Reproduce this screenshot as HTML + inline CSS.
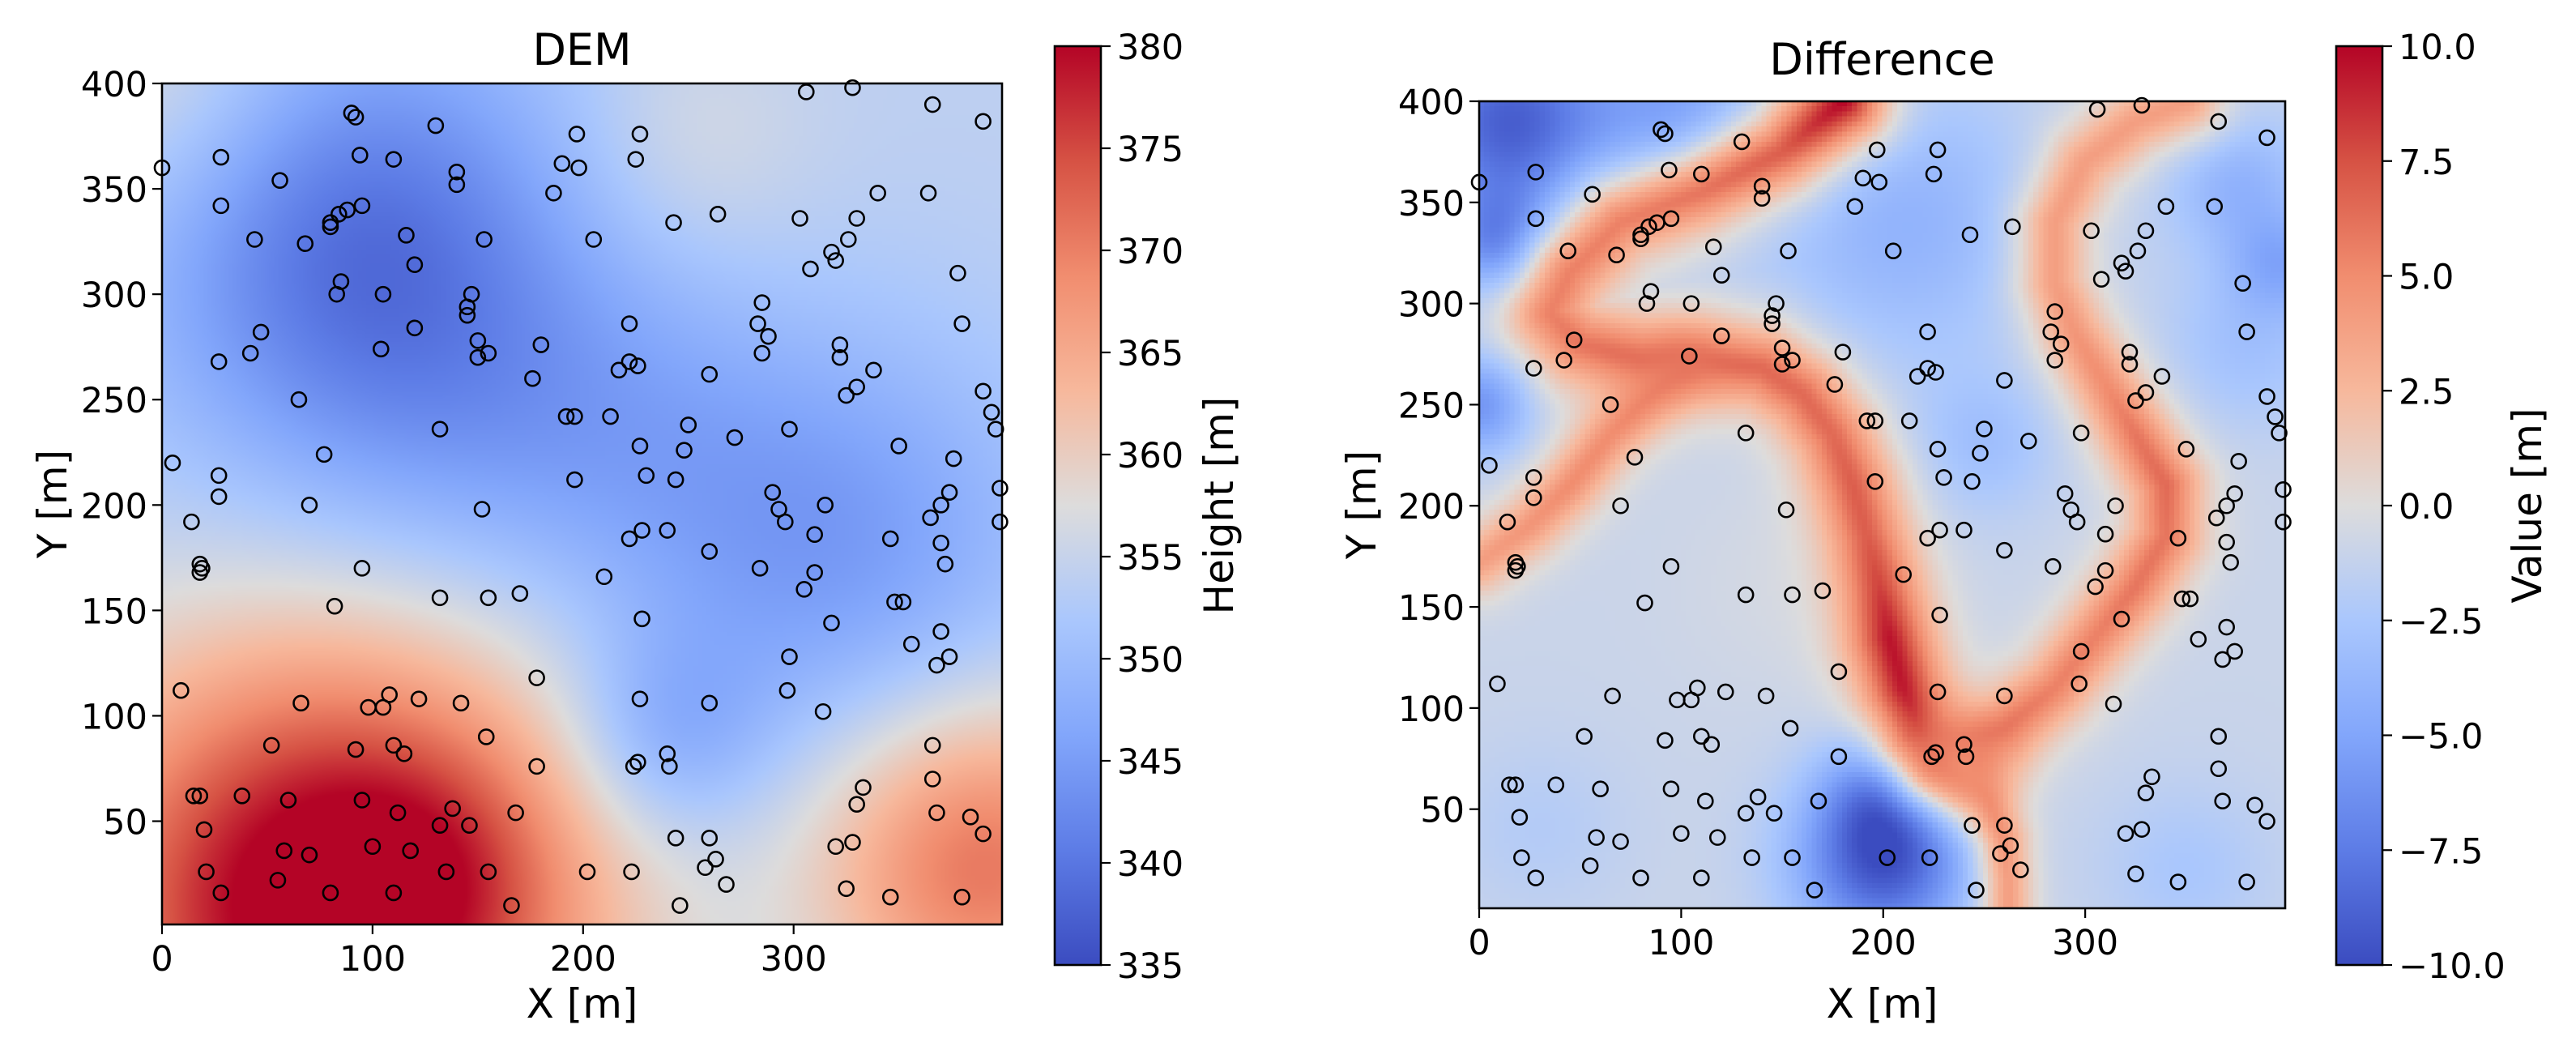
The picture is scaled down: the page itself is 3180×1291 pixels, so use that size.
<!DOCTYPE html>
<html><head><meta charset="utf-8">
<style>
html,body{margin:0;padding:0;background:#fff;}
#root{position:relative;width:3180px;height:1291px;overflow:hidden;font-family:"DejaVu Sans","Liberation Sans",sans-serif;}
canvas{position:absolute;}
svg{position:absolute;left:0;top:0;}
</style></head>
<body>
<div id="root">
<canvas id="demCanvas" width="200" height="200" style="left:200px;top:103px;width:1037px;height:1038px;"></canvas>
<canvas id="diffCanvas" width="160" height="160" style="left:1826px;top:125px;width:995px;height:996px;image-rendering:pixelated;"></canvas>
<svg id="svg" width="3180" height="1291"></svg>
</div>
<script>
// ---- data ----
const ptsX = [0,28,28,44,47,42,27,5,27,27,14,18,18,19,65,70,77,82,95,90,92,94,80,80,84,88,95,56,68,85,83,110,105,104,116,120,130,140,140,145,147,145,150,150,155,153,120,132,152,132,155,170,178,176,180,186,190,197,198,205,192,196,196,213,217,222,222,226,225,227,243,264,210,222,227,230,228,240,248,250,244,260,260,272,285,283,285,288,298,293,296,290,284,303,308,318,315,310,305,310,322,322,325,330,338,318,306,328,326,330,320,340,350,346,348,352,356,364,366,365,370,374,370,376,378,380,390,390,394,396,398,398,370,368,374,372,9,18,15,21,20,28,38,52,55,60,58,66,70,80,92,98,105,108,110,95,110,112,100,115,122,118,135,132,138,142,146,154,155,168,166,178,202,223,224,226,227,228,240,241,244,246,258,260,263,268,260,297,298,314,320,325,328,330,333,346,366,366,368,380,384,390];
const ptsY = [360,365,342,326,282,272,268,220,214,204,192,172,168,170,250,200,224,152,170,386,384,366,334,332,338,340,342,354,324,306,300,364,300,274,328,314,380,358,352,290,300,294,278,270,272,326,284,236,198,156,156,158,118,260,276,348,362,376,360,326,242,242,212,242,264,286,268,266,364,376,334,338,166,184,228,214,188,188,226,238,212,178,262,232,272,286,296,280,236,198,192,206,170,336,312,320,200,186,160,168,276,270,252,256,264,144,396,398,326,336,316,348,228,184,154,154,134,348,390,194,200,206,182,222,310,286,382,254,244,236,208,192,140,124,128,172,112,62,62,26,46,16,62,86,22,60,36,106,34,16,84,104,104,110,86,60,16,54,38,82,108,36,26,48,56,106,48,90,26,54,10,76,26,26,76,78,108,146,82,76,42,10,28,42,32,20,106,112,128,102,38,18,40,58,66,14,86,70,54,14,52,44];
// DEM field control blobs
const demBase = 354;
const demBlobX = [80,390,90,130,320,240,220,250,0,130];
const demBlobY = [10,30,330,250,180,90,230,370,400,30];
const demBlobA = [30,17,-13,-5,-9,-7,-4,3,5,4];
const demBlobS = [85,55,75,70,70,35,60,40,50,40];
// Difference field ridges (x,y,value) and blobs
const ridgeA_X=[180,150,110,70,45,35,50,80,110,140,160,175,185,192,198,203,210,218,228,240];
const ridgeA_Y=[400,375,355,340,315,295,280,272,272,268,255,235,210,185,160,135,110,90,78,72];
const ridgeA_V=[10,7,6,5.5,5.5,5.5,6,6.5,6.5,6.5,6.5,6.5,7,7,8,9.5,9.5,8.5,7,6];
const ridgeB_X=[0,25,45,65,85,100];
const ridgeB_Y=[172,190,210,235,255,268];
const ridgeB_V=[4,4.5,5,5,5.5,6];
const ridgeC_X=[230,260,285,305,325,340,340,325,310,295,285,285,300,325,350];
const ridgeC_Y=[78,90,110,135,160,185,210,235,260,285,310,340,370,390,400];
const ridgeC_V=[6,6,5.5,5.5,6,6,6.5,6,5,4.5,4,4,4,4,4];
const ridgeD_X=[240,252,260,262,262];
const ridgeD_Y=[72,55,35,15,0];
const ridgeD_V=[5,5,4.5,4,4];
const diffBase = -1.0;
const diffBlobX=[200,200,15,0,10,210,250,375,398,350,30,100,150,380];
const diffBlobY=[25,60,390,250,330,340,230,360,320,20,40,395,160,280];
const diffBlobA=[-8.5,-4,-8,-5,-5,-3,-2,-3,-3,-1.5,-1,-4,0.5,-2];
const diffBlobS=[30,20,35,18,18,50,25,25,18,30,30,30,40,30];
const demTicks=[335,340,345,350,355,360,365,370,375,380];
const diffTicks=["−10.0","−7.5","−5.0","−2.5","0.0","2.5","5.0","7.5","10.0"];
const axisTicks=[0,100,200,300];
const yTicks=[50,100,150,200,250,300,350,400];

// ---- colormap ----
const cmStops=[[0,59,76,192],[0.125,93,124,230],[0.25,130,166,251],[0.375,170,199,253],[0.5,221,220,220],[0.625,247,184,156],[0.75,241,141,111],[0.875,214,82,68],[1,180,4,38]];
function cmap(t){t=Math.max(0,Math.min(1,t));for(let i=1;i<cmStops.length;i++){if(t<=cmStops[i][0]){const a=cmStops[i-1],b=cmStops[i];const f=(t-a[0])/(b[0]-a[0]);return [a[1]+(b[1]-a[1])*f,a[2]+(b[2]-a[2])*f,a[3]+(b[3]-a[3])*f];}}return cmStops[8].slice(1);}

function blobSum(x,y,X,Y,A,S){let v=0;for(let i=0;i<X.length;i++){const dx=x-X[i],dy=y-Y[i];v+=A[i]*Math.exp(-(dx*dx+dy*dy)/(2*S[i]*S[i]));}return v;}

(function(){const c=document.getElementById('demCanvas');const ctx=c.getContext('2d');const img=ctx.createImageData(200,200);
for(let j=0;j<200;j++)for(let i=0;i<200;i++){const x=(i+0.5)/200*399,y=400-(j+0.5)/200*399;const v=demBase+blobSum(x,y,demBlobX,demBlobY,demBlobA,demBlobS);const col=cmap((v-335)/45);const k=(j*200+i)*4;img.data[k]=col[0];img.data[k+1]=col[1];img.data[k+2]=col[2];img.data[k+3]=255;}
ctx.putImageData(img,0,0);})();

function ridgeEval(x,y,X,Y,V){let best=1e9,val=0;for(let i=0;i<X.length-1;i++){const ax=X[i],ay=Y[i],bx=X[i+1],by=Y[i+1];const dx=bx-ax,dy=by-ay;let t=((x-ax)*dx+(y-ay)*dy)/(dx*dx+dy*dy);t=Math.max(0,Math.min(1,t));const px=ax+t*dx,py=ay+t*dy;const d=(x-px)*(x-px)+(y-py)*(y-py);if(d<best){best=d;val=V[i]+(V[i+1]-V[i])*t;}}return [best,val];}
(function(){const N=160;const c=document.getElementById('diffCanvas');const ctx=c.getContext('2d');const img=ctx.createImageData(N,N);
const ridges=[[ridgeA_X,ridgeA_Y,ridgeA_V,15],[ridgeB_X,ridgeB_Y,ridgeB_V,11],[ridgeC_X,ridgeC_Y,ridgeC_V,13],[ridgeD_X,ridgeD_Y,ridgeD_V,9]];
for(let j=0;j<N;j++)for(let i=0;i<N;i++){const x=(i+0.5)/N*399,y=400-(j+0.5)/N*399;let v=diffBase+blobSum(x,y,diffBlobX,diffBlobY,diffBlobA,diffBlobS);
for(const r of ridges){const [d2,rv]=ridgeEval(x,y,r[0],r[1],r[2]);const g=Math.exp(-Math.pow(d2/(2*r[3]*r[3]),0.8));v=v+(rv-v)*g;}
const col=cmap((v+10)/20);const k=(j*N+i)*4;img.data[k]=col[0];img.data[k+1]=col[1];img.data[k+2]=col[2];img.data[k+3]=255;}
ctx.putImageData(img,0,0);})();

// ---- SVG overlay ----
const NS='http://www.w3.org/2000/svg';const svg=document.getElementById('svg');
function el(tag,attrs,parent){const e=document.createElementNS(NS,tag);for(const k in attrs)e.setAttribute(k,attrs[k]);(parent||svg).appendChild(e);return e;}
function txt(s,x,y,size,anchor,parent,rot){const t=el('text',{x:x,y:y,'font-size':size,'text-anchor':anchor||'middle','font-family':'DejaVu Sans, Liberation Sans, sans-serif',fill:'#000'},parent);if(rot)t.setAttribute('transform','rotate(-90 '+x+' '+y+')');t.textContent=s;return t;}

const defs=el('defs',{});
const grad=el('linearGradient',{id:'cw',x1:0,y1:1,x2:0,y2:0},defs);
for(const s of cmStops){el('stop',{offset:s[0],'stop-color':'rgb('+s[1]+','+s[2]+','+s[3]+')'},grad);}

function panel(name,L,T,W,H,title,titleY,ylabX){
  const g=el('g',{});
  
  
  const sx=x=>L+x*W/399, sy=y=>T+(400-y)*H/399;
  const pg=el('g',{},g);
  
  
  for(let i=0;i<ptsX.length;i++){
    const c=el('circle',{cx:sx(ptsX[i]),cy:sy(ptsY[i]),r:9,fill:'none',stroke:'#000','stroke-width':2.6},pg);
    
    
  }
  const fr=el('rect',{x:L,y:T,width:W,height:H,fill:'none',stroke:'#000','stroke-width':2.6},g);
  
  
  for(const v of axisTicks){
    el('line',{x1:sx(v),x2:sx(v),y1:T+H,y2:T+H+12,stroke:'#000','stroke-width':2.2},g);
    const t=txt(String(v),sx(v),T+H+57,43,'middle',g);
    
    
  }
  for(const v of yTicks){
    el('line',{x1:L-12,x2:L,y1:sy(v),y2:sy(v),stroke:'#000','stroke-width':2.2},g);
    const t=txt(String(v),L-18,sy(v)+16,43,'end',g);
    
    
  }
  const tt=txt(title,L+W/2,titleY,54,'middle',g);
  
  
  const xl=txt('X [m]',L+W/2,1256,50,'middle',g);
  
  
  const yl=txt('Y [m]',ylabX,T+H/2,50,'middle',g,true);
  
  
}
panel('dem',200,103,1037,1038,'DEM',80,82);
panel('difference',1826,125,995,996,'Difference',92,1698);

function colorbar(name,L,labels,label,labX){
  const g=el('g',{});
  
  
  const T=57,B=1191,W=57;
  el('rect',{x:L,y:T,width:W,height:B-T,fill:'url(#cw)',stroke:'#000','stroke-width':2.6},g);
  const n=labels.length;
  for(let i=0;i<n;i++){const y=B-(B-T)*i/(n-1);
    el('line',{x1:L+W,x2:L+W+12,y1:y,y2:y,stroke:'#000','stroke-width':2.2},g);
    const t=txt(String(labels[i]),L+W+20,y+16,43,'start',g);
    
    
  }
  const lt=txt(label,labX,(T+B)/2,50,'middle',g,true);
  
  
}
colorbar('dem',1302,demTicks,'Height [m]',1522);
colorbar('difference',2884,diffTicks,'Value [m]',3137);
</script>
</body></html>
